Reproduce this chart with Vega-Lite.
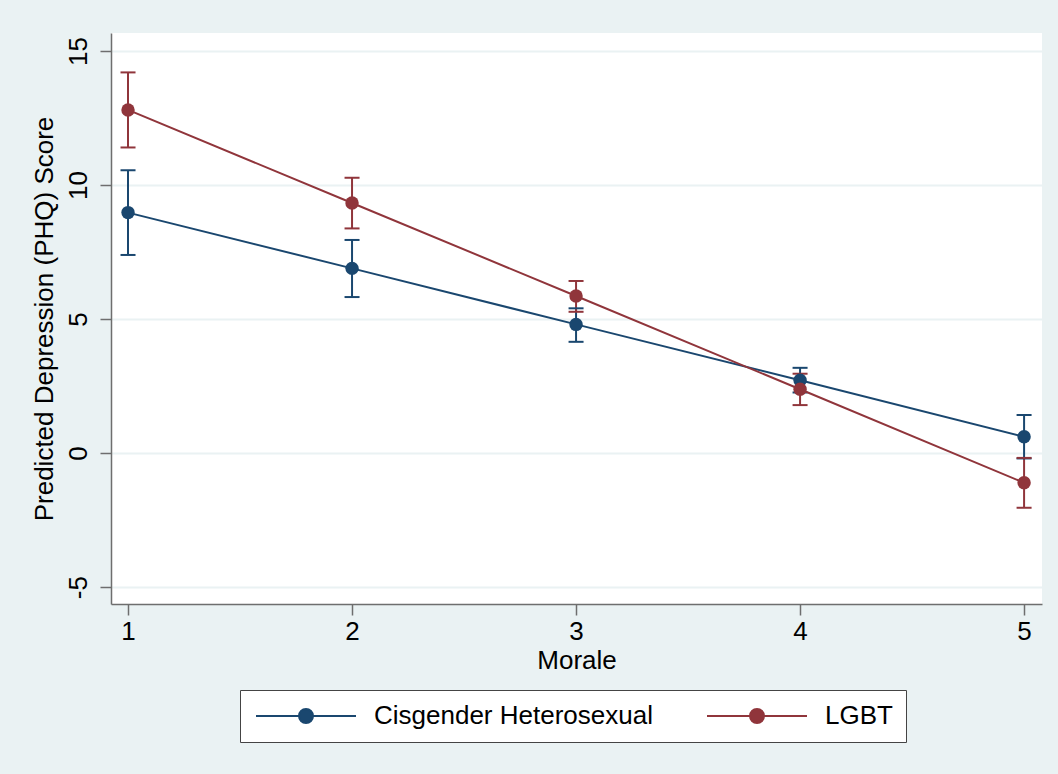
{
  "$schema": "https://vega.github.io/schema/vega-lite/v6.json",
  "autosize": {"type": "none"},
  "width": 931,
  "height": 571,
  "padding": {"left": 111, "top": 33, "right": 16, "bottom": 170},
  "background": "#EAF2F3",
  "config": {
    "view": {"fill": "white", "stroke": null},
    "font": "Liberation Sans",
    "axis": {
      "labelFont": "Liberation Sans",
      "titleFont": "Liberation Sans",
      "labelFontSize": 26,
      "titleFontSize": 26,
      "titleFontWeight": "normal",
      "labelColor": "black",
      "titleColor": "black",
      "domainColor": "#6e6e6e",
      "domainWidth": 1.5,
      "tickColor": "#6e6e6e",
      "tickWidth": 1.5,
      "tickSize": 11
    }
  },
  "data": {
    "values": [
      {"group": "Cisgender Heterosexual", "morale": 1, "est": 8.97, "lo": 7.39, "hi": 10.55},
      {"group": "Cisgender Heterosexual", "morale": 2, "est": 6.89, "lo": 5.82, "hi": 7.95},
      {"group": "Cisgender Heterosexual", "morale": 3, "est": 4.80, "lo": 4.15, "hi": 5.40},
      {"group": "Cisgender Heterosexual", "morale": 4, "est": 2.72, "lo": 2.26, "hi": 3.18},
      {"group": "Cisgender Heterosexual", "morale": 5, "est": 0.61, "lo": -0.20, "hi": 1.42},
      {"group": "LGBT", "morale": 1, "est": 12.80, "lo": 11.40, "hi": 14.20},
      {"group": "LGBT", "morale": 2, "est": 9.33, "lo": 8.38, "hi": 10.27},
      {"group": "LGBT", "morale": 3, "est": 5.86, "lo": 5.27, "hi": 6.42},
      {"group": "LGBT", "morale": 4, "est": 2.38, "lo": 1.79, "hi": 2.96},
      {"group": "LGBT", "morale": 5, "est": -1.11, "lo": -2.04, "hi": -0.18}
    ]
  },
  "encoding": {
    "x": {
      "field": "morale", "type": "quantitative",
      "scale": {"domain": [0.924, 5.08], "nice": false, "zero": false},
      "axis": {"values": [1, 2, 3, 4, 5], "grid": false, "title": "Morale", "labelPadding": 3, "titlePadding": 3, "labelExpr": "'' + datum.value"}
    },
    "color": {
      "field": "group", "type": "nominal",
      "scale": {"domain": ["Cisgender Heterosexual", "LGBT"], "range": ["#1A476F", "#90353B"]},
      "legend": {
        "title": null,
        "orient": "none",
        "legendX": 129,
        "legendY": 657,
        "direction": "horizontal",
        "columns": 2,
        "columnPadding": 50,
        "fillColor": "white",
        "strokeColor": "#444444",
        "padding": 13,
        "symbolType": "M-1,0L9,0M4.7,0A0.7,0.7,0,1,1,3.3,0A0.7,0.7,0,1,1,4.7,0Z",
        "symbolSize": 400,
        "symbolStrokeWidth": 2,
        "symbolOpacity": 1,
        "labelFont": "Liberation Sans",
        "labelFontSize": 26,
        "labelColor": "black",
        "labelOffset": 95,
        "labelLimit": 500,
        "encode": {
          "symbols": {
            "update": {
              "fill": {"scale": "color", "field": "value"},
              "stroke": {"scale": "color", "field": "value"}
            }
          }
        }
      }
    }
  },
  "layer": [
    {
      "mark": {"type": "rule", "strokeWidth": 2},
      "encoding": {
        "y": {
          "field": "lo", "type": "quantitative",
          "scale": {"domain": [-5.63, 15.67], "nice": false, "zero": false},
          "axis": {
            "values": [-5, 0, 5, 10, 15],
            "grid": true, "gridColor": "#EAF2F3", "gridWidth": 2,
            "labelAngle": -90, "labelAlign": "center", "labelBaseline": "bottom", "labelPadding": 9,
            "labelExpr": "'' + datum.value",
            "title": "Predicted Depression (PHQ) Score", "titlePadding": 8
          }
        },
        "y2": {"field": "hi"}
      }
    },
    {
      "mark": {"type": "tick", "orient": "horizontal", "size": 15, "thickness": 2, "opacity": 1},
      "encoding": {"y": {"field": "lo", "type": "quantitative"}}
    },
    {
      "mark": {"type": "tick", "orient": "horizontal", "size": 15, "thickness": 2, "opacity": 1},
      "encoding": {"y": {"field": "hi", "type": "quantitative"}}
    },
    {
      "mark": {"type": "line", "strokeWidth": 2},
      "encoding": {"y": {"field": "est", "type": "quantitative"}}
    },
    {
      "mark": {"type": "point", "filled": true, "opacity": 1, "size": 180, "shape": "circle"},
      "encoding": {"y": {"field": "est", "type": "quantitative"}}
    }
  ]
}
